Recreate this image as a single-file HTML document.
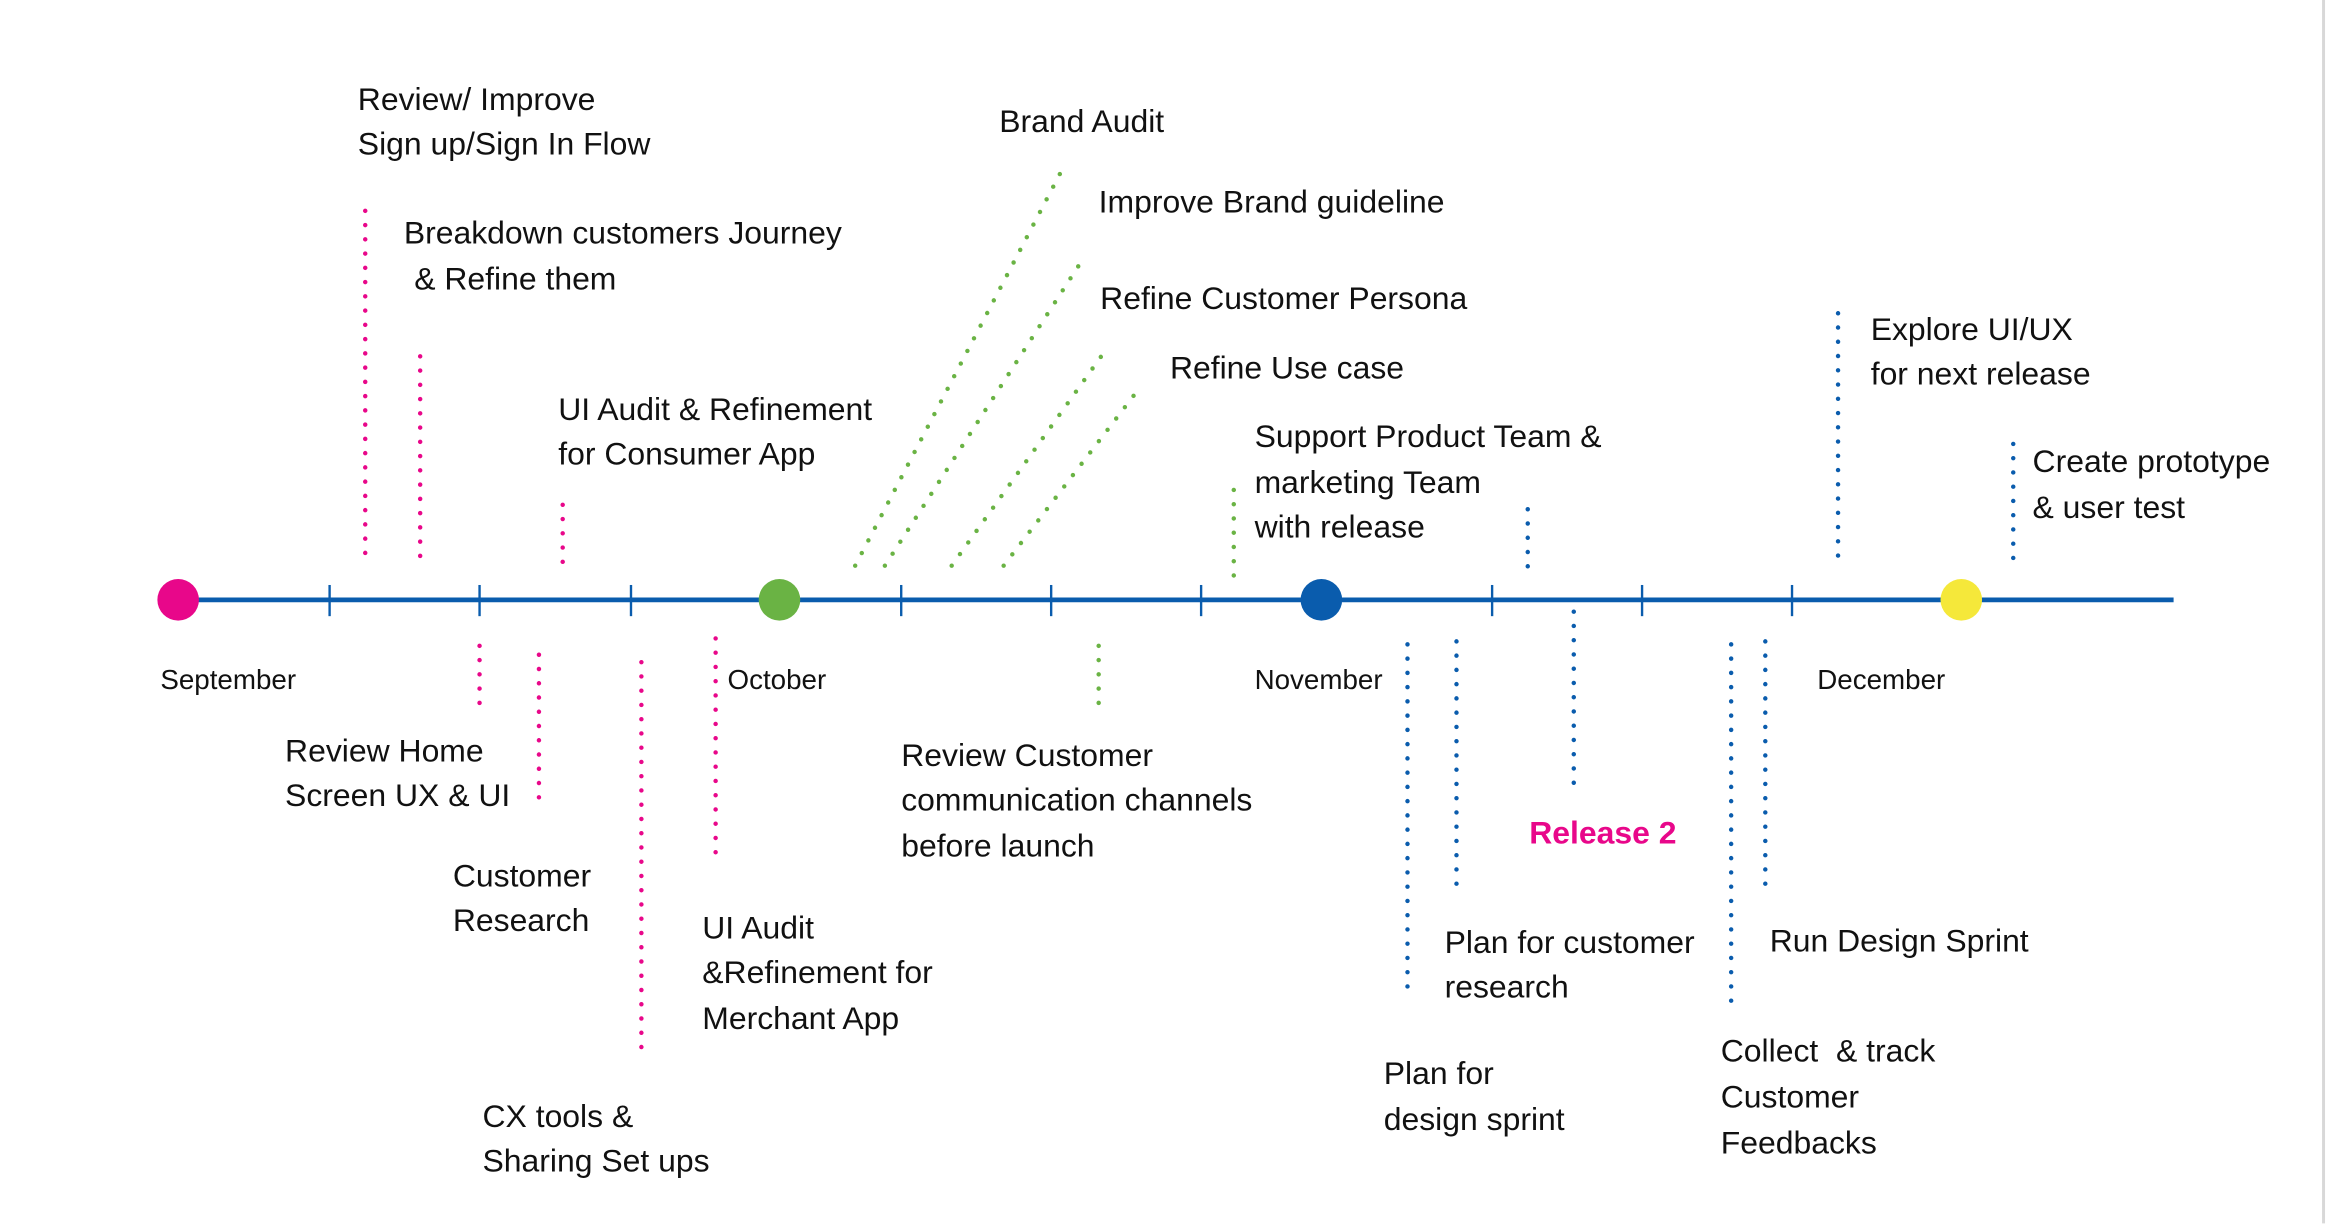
<!DOCTYPE html>
<html><head><meta charset="utf-8"><style>
html,body{margin:0;padding:0;background:#fff;width:2328px;height:1224px;overflow:hidden}
svg{display:block}
text{font-family:"Liberation Sans",sans-serif;font-size:21.5px;fill:#111}
.m{font-size:18.7px}
.p{stroke:#e8078a}.g{stroke:#6ab344}.b{stroke:#0a5cad}
.d{stroke-width:3;stroke-linecap:round;stroke-dasharray:0 9.6;fill:none}
</style></head><body>
<svg width="2328" height="1224" viewBox="0 0 1568 824.4" xmlns="http://www.w3.org/2000/svg">
<line x1="1565" y1="0" x2="1565" y2="824" stroke="#d8d8d8" stroke-width="2"/>
<line x1="120" y1="404" x2="1464" y2="404" stroke="#0a5cad" stroke-width="3.2"/>
<g stroke="#0a5cad" stroke-width="1.6">
<line x1="222" y1="394" x2="222" y2="415"/><line x1="323" y1="394" x2="323" y2="415"/><line x1="425" y1="394" x2="425" y2="415"/>
<line x1="607" y1="394" x2="607" y2="415"/><line x1="708" y1="394" x2="708" y2="415"/><line x1="809" y1="394" x2="809" y2="415"/>
<line x1="1005" y1="394" x2="1005" y2="415"/><line x1="1106" y1="394" x2="1106" y2="415"/><line x1="1207" y1="394" x2="1207" y2="415"/>
</g>
<circle cx="120" cy="404" r="14" fill="#e8078a"/>
<circle cx="525" cy="404" r="14" fill="#6ab344"/>
<circle cx="890" cy="404" r="14" fill="#0a5cad"/>
<ellipse cx="1321" cy="404" rx="14" ry="14" fill="#f5e83a"/>
<g class="d p">
<line x1="246" y1="142" x2="246" y2="380"/><line x1="283" y1="240" x2="283" y2="380"/><line x1="379" y1="340" x2="379" y2="380"/>
<line x1="323" y1="435" x2="323" y2="475"/><line x1="363" y1="441" x2="363" y2="541"/><line x1="432" y1="446" x2="432" y2="706"/><line x1="482" y1="430" x2="482" y2="580"/>
</g>
<g class="d g">
<line x1="576" y1="381" x2="715" y2="115"/><line x1="596" y1="381" x2="731" y2="172"/><line x1="641" y1="381" x2="746" y2="234"/><line x1="676" y1="381" x2="767" y2="262"/>
<line x1="831" y1="330" x2="831" y2="390"/><line x1="740" y1="435" x2="740" y2="475"/>
</g>
<g class="d b">
<line x1="1029" y1="343" x2="1029" y2="383"/><line x1="1238" y1="211" x2="1238" y2="380"/><line x1="1356" y1="299" x2="1356" y2="380"/>
<line x1="948" y1="434" x2="948" y2="670"/><line x1="981" y1="432" x2="981" y2="601"/><line x1="1060" y1="412" x2="1060" y2="530"/>
<line x1="1166" y1="434" x2="1166" y2="682"/><line x1="1189" y1="432" x2="1189" y2="601"/>
</g>
<text x="241" y="74">Review/ Improve</text><text x="241" y="104">Sign up/Sign In Flow</text>
<text x="272" y="164">Breakdown customers Journey</text><text x="279" y="195">&amp; Refine them</text>
<text x="376" y="283">UI Audit &amp; Refinement</text><text x="376" y="313">for Consumer App</text>
<text x="673" y="89">Brand Audit</text>
<text x="740" y="143">Improve Brand guideline</text>
<text x="741" y="208">Refine Customer Persona</text>
<text x="788" y="255">Refine Use case</text>
<text x="845" y="301">Support Product Team &amp;</text><text x="845" y="332">marketing Team</text><text x="845" y="362">with release</text>
<text x="1260" y="229">Explore UI/UX</text><text x="1260" y="259">for next release</text>
<text x="1369" y="318">Create prototype</text><text x="1369" y="349">&amp; user test</text>
<text class="m" x="108" y="464">September</text><text class="m" x="490" y="464">October</text>
<text class="m" x="845" y="464">November</text><text class="m" x="1224" y="464">December</text>
<text x="192" y="513">Review Home</text><text x="192" y="543">Screen UX &amp; UI</text>
<text x="305" y="597">Customer</text><text x="305" y="627">Research</text>
<text x="473" y="632">UI Audit</text><text x="473" y="662">&amp;Refinement for</text><text x="473" y="693">Merchant App</text>
<text x="325" y="759">CX tools &amp;</text><text x="325" y="789">Sharing Set ups</text>
<text x="607" y="516">Review Customer</text><text x="607" y="546">communication channels</text><text x="607" y="577">before launch</text>
<text x="1030" y="568" style="font-weight:bold;fill:#e8078a">Release 2</text>
<text x="973" y="642">Plan for customer</text><text x="973" y="672">research</text>
<text x="932" y="730">Plan for</text><text x="932" y="761">design sprint</text>
<text x="1192" y="641">Run Design Sprint</text>
<text x="1159" y="715" xml:space="preserve">Collect  &amp; track</text><text x="1159" y="746">Customer</text><text x="1159" y="777">Feedbacks</text>
</svg>
</body></html>
